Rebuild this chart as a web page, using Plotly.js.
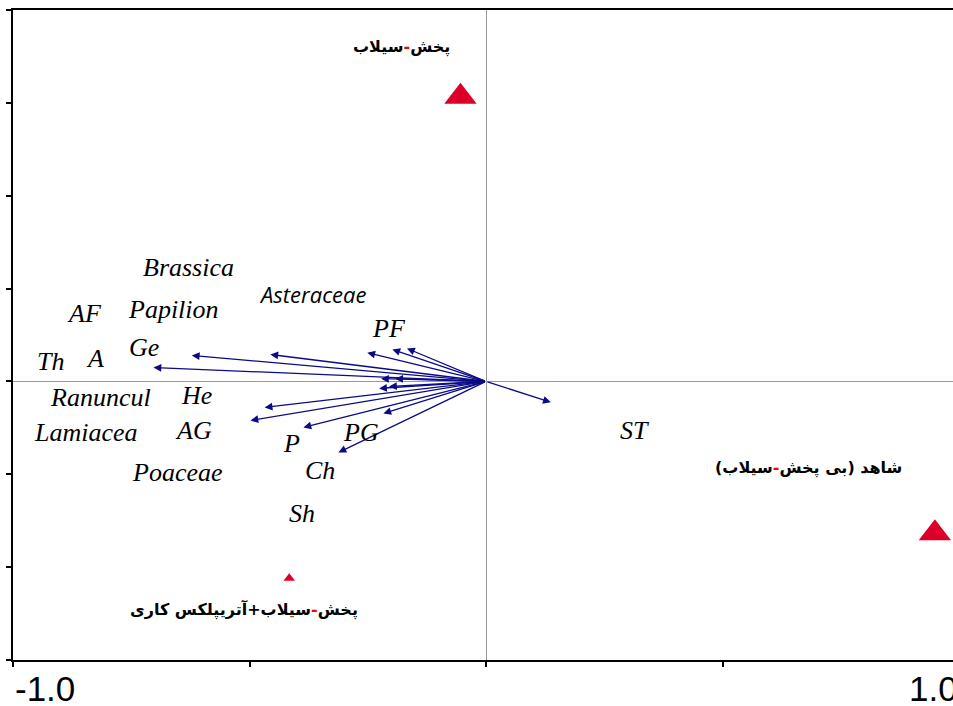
<!DOCTYPE html>
<html>
<head>
<meta charset="utf-8">
<script src="https://cdn.plot.ly/plotly-3.0.1.min.js"></script>
<style>
html,body{margin:0;padding:0;overflow:hidden;background:#fff;}
#chart{width:960px;height:706px;}
</style>
</head>
<body>
<div id="chart"></div>
<script>
// ---- data ----
const originX = 0, originY = 0;
// species / life-form arrow tips (CCA axis 1, axis 2)
const arrowX = [-0.703, -0.622, -0.456, -0.251, -0.198, -0.167, -0.222, -0.192, -0.226, -0.205, -0.217, -0.468, -0.498, -0.386, -0.312, 0.137];
const arrowY = [0.030, 0.056, 0.058, 0.062, 0.069, 0.071, 0.006, 0.006, -0.015, -0.011, -0.069, -0.056, -0.084, -0.099, -0.153, -0.045];

// species / life-form labels
const speciesLabels = ['Brassica','Asteraceae','AF','Papilion','PF','Ge','Th','A','Ranuncul','He','Lamiacea','AG','P','PG','ST','Poaceae','Ch','Sh'];
const labelX = [-0.629, -0.365, -0.848, -0.660, -0.205, -0.722, -0.920, -0.827, -0.816, -0.612, -0.846, -0.618, -0.411, -0.264, 0.314, -0.652, -0.350, -0.388];
const labelY = [0.245, 0.189, 0.146, 0.155, 0.114, 0.073, 0.043, 0.049, -0.034, -0.030, -0.110, -0.105, -0.133, -0.110, -0.105, -0.196, -0.191, -0.284];

// treatments (sites)
const siteX = [-0.054, 0.949, -0.416];
const siteY = [0.613, -0.327, -0.424];
const siteNames = ['پخش-سیلاب', 'شاهد (بی پخش-سیلاب)', 'پخش-سیلاب+آتریپلکس کاری'];
const siteLabelX = [-0.179, 0.681, -0.511];
const siteLabelY = [0.720, -0.187, -0.492];

// axis tick labels
const xTickVals = [-1, 1];
const xTickText = ['-1.0', '1.0'];

// ---- styles ----
const siteMarkerSizes = [28, 28, 10];
const sansLabels = new Set(['Asteraceae']);
const arrowColor = '#0b0b86';
const tickLabelShift = [32, -26];

function persian(t){
  // colour the hyphen red, force RTL paragraph
  return '\u200F' + t.replace('-', '<span style="color:#ff0000">-</span>') + '\u200F';
}

const annotations = [];
arrowX.forEach((x, i) => {
  annotations.push({
    x: x, y: arrowY[i], xref: 'x', yref: 'y',
    ax: originX, ay: originY, axref: 'x', ayref: 'y',
    text: '', showarrow: true, arrowhead: 2, arrowsize: 1.2,
    arrowwidth: 1.3, arrowcolor: arrowColor, standoff: 0, startstandoff: 0
  });
});
speciesLabels.forEach((t, i) => {
  const sans = sansLabels.has(t);
  annotations.push({
    x: labelX[i], y: labelY[i], xref: 'x', yref: 'y', showarrow: false,
    text: t, xanchor: 'center', yanchor: 'middle',
    font: sans ? {family: 'Open Sans, sans-serif', size: 22, color: '#000', style: 'italic'}
               : {family: 'Liberation Serif, Times New Roman, serif', size: 26, color: '#000', style: 'italic'}
  });
});
siteNames.forEach((t, i) => {
  annotations.push({
    x: siteLabelX[i], y: siteLabelY[i], xref: 'x', yref: 'y', showarrow: false,
    text: persian(t), xanchor: 'center', yanchor: 'middle',
    font: {family: 'DejaVu Sans, Noto Sans, sans-serif', size: 16, color: '#000', weight: 'bold'}
  });
});
xTickVals.forEach((v, i) => {
  annotations.push({
    x: v, y: 0, xref: 'x', yref: 'paper', showarrow: false,
    text: xTickText[i], xanchor: 'center', yanchor: 'top', xshift: tickLabelShift[i], yshift: -7,
    font: {family: 'Liberation Sans, Arial, sans-serif', size: 35, color: '#000'}
  });
});

const traces = [{
  type: 'scatter', mode: 'markers', x: siteX, y: siteY,
  marker: {symbol: 'triangle-up', size: siteMarkerSizes, color: '#dc0028', opacity: 1, line: {width: 0}},
  opacity: 1, hoverinfo: 'skip', cliponaxis: false
}];

const layout = {
  width: 960, height: 706,
  margin: {l: 13, r: 1, t: 10, b: 46},
  paper_bgcolor: '#fff', plot_bgcolor: '#fff',
  showlegend: false,
  xaxis: {
    range: [-1, 1], tickvals: [-1, -0.5, 0, 0.5, 1], ticks: 'outside', ticklen: 5, tickwidth: 2, tickcolor: '#000',
    showticklabels: false, showline: true, linewidth: 2, linecolor: '#000', mirror: true,
    zeroline: true, zerolinecolor: '#999', zerolinewidth: 1, showgrid: false, fixedrange: true
  },
  yaxis: {
    range: [-0.6, 0.8], tick0: 0, dtick: 0.2, ticks: 'outside', ticklen: 5, tickwidth: 2, tickcolor: '#000',
    showticklabels: false, showline: true, linewidth: 2, linecolor: '#000',
    zeroline: true, zerolinecolor: '#999', zerolinewidth: 1, showgrid: false, fixedrange: true
  },
  annotations: annotations
};

Plotly.newPlot('chart', traces, layout, {displayModeBar: false, staticPlot: true});
</script>
</body>
</html>
